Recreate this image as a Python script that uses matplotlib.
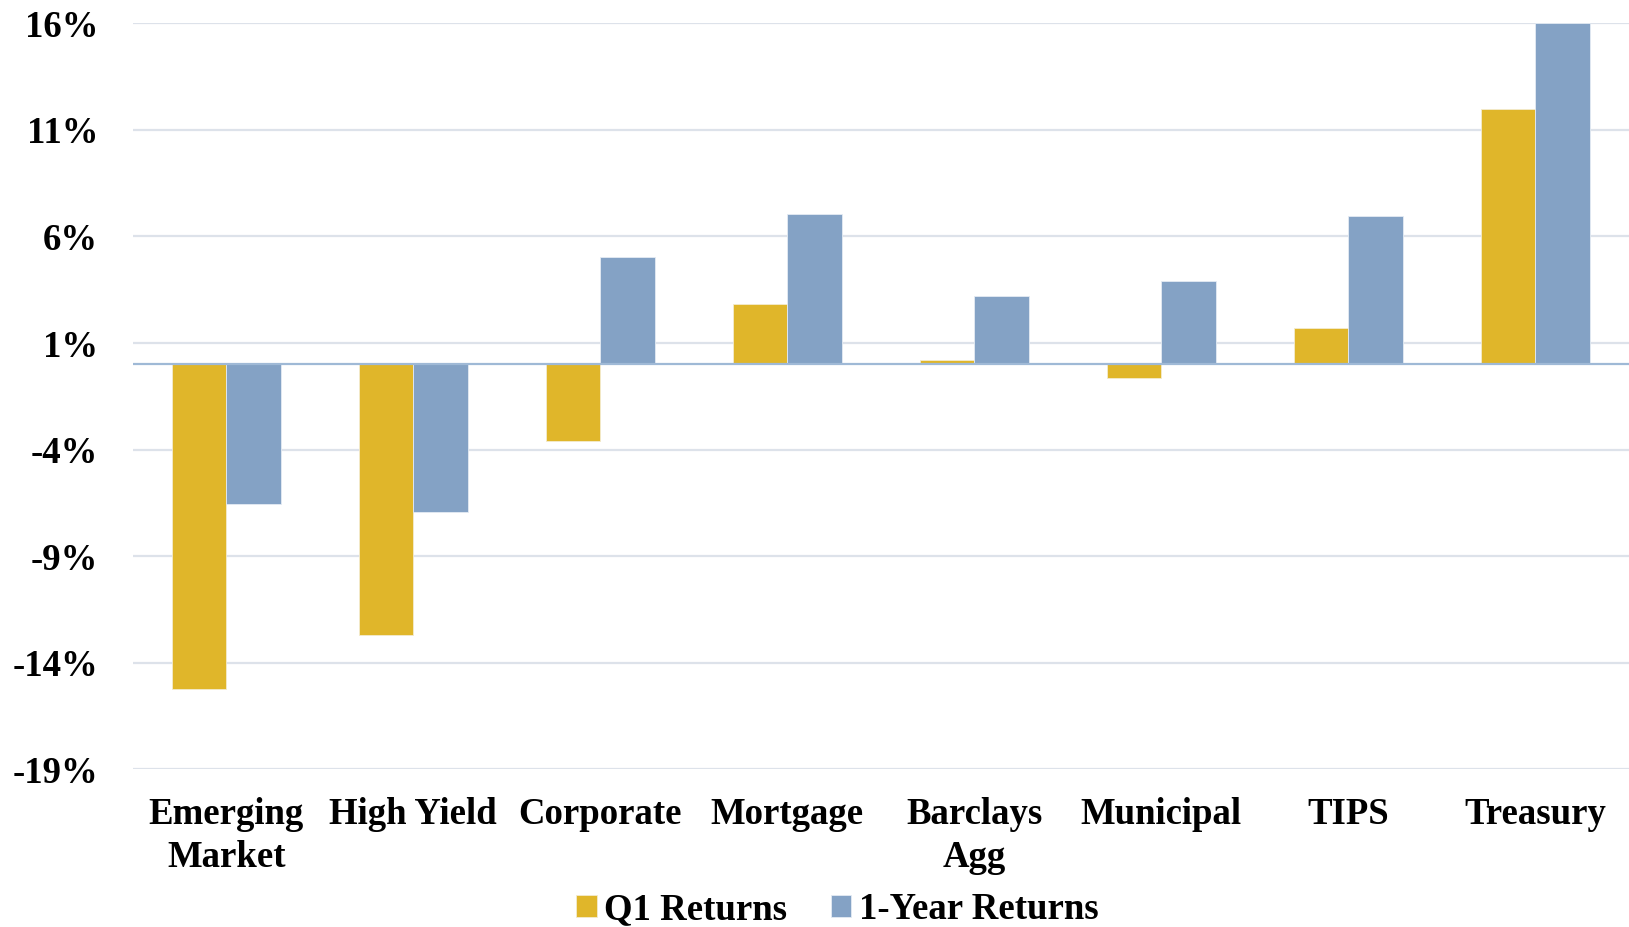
import matplotlib.pyplot as plt
import numpy as np

# bond sector returns (%)
categories = ["Emerging\nMarket", "High Yield", "Corporate", "Mortgage",
              "Barclays\nAgg", "Municipal", "TIPS", "Treasury"]
q1_returns = [-15.25, -12.7, -3.6, 2.85, 0.2, -0.65, 1.7, 12.0]
year_returns = [-6.55, -6.95, 5.05, 7.05, 3.2, 3.9, 6.95, 16.0]
y_ticks = [-19, -14, -9, -4, 1, 6, 11, 16]

GOLD = "#E0B62A"
BLUE = "#84A2C5"
FONT = ["Liberation Serif", "DejaVu Serif"]

plt.rcParams["font.family"] = FONT
plt.rcParams["font.weight"] = "bold"

fig = plt.figure(figsize=(16.29, 9.27), dpi=100)
ax = fig.add_axes([0.0815, 0.1701, 0.9185, 0.8048])

x = np.arange(len(categories))
w = 0.29
ax.bar(x - w / 2, q1_returns, w, color=GOLD, edgecolor="#F3EBCF",
       linewidth=0.6, label="Q1 Returns", zorder=2)
ax.bar(x + w / 2, year_returns, w, color=BLUE, edgecolor="#E4EBF3",
       linewidth=0.6, label="1-Year Returns", zorder=2)
ax.axhline(0, color="#9FB9D6", linewidth=1.6, zorder=3)

ax.set_xlim(-0.5, len(categories) - 0.5)
ax.set_ylim(-19, 16)
ax.set_yticks(y_ticks)
ax.set_yticklabels([f"{t}%" for t in y_ticks])
ax.set_xticks(x)
ax.set_xticklabels(categories, linespacing=1.3)
ax.tick_params(axis="y", length=0, pad=25, labelsize=26.5)
ax.tick_params(axis="x", length=0, pad=20, labelsize=26.5)
ax.grid(axis="y", color="#DDE2EA", linewidth=1.6, zorder=0)
ax.set_axisbelow(True)
for s in ax.spines.values():
    s.set_visible(False)

fig.legend(loc="center", bbox_to_anchor=(0.514, 0.019), ncol=2, frameon=False,
           fontsize=26.5, handlelength=0.55, handleheight=0.55,
           handletextpad=0.2, columnspacing=1.2, borderaxespad=0)

fig.savefig("out.png", dpi=100)
